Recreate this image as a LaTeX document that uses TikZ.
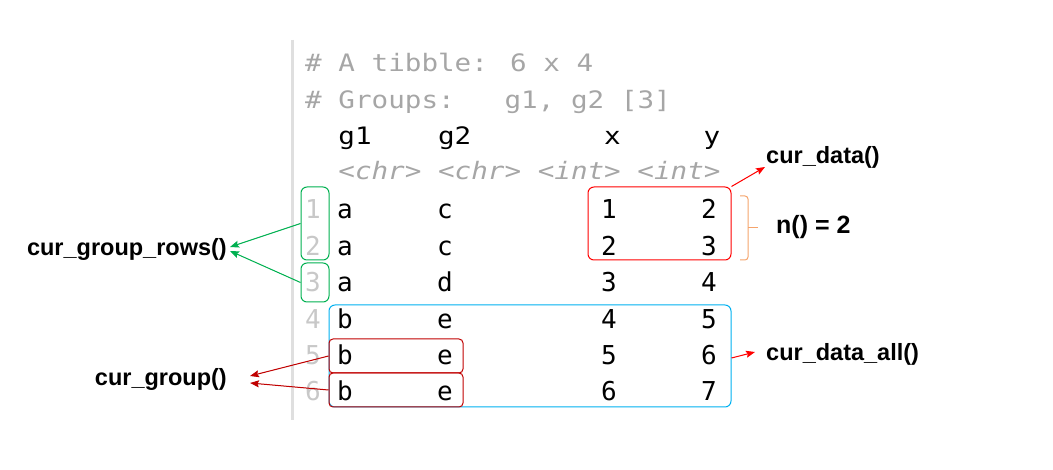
\documentclass[tikz,border=0pt]{standalone}
\usepackage{fontspec}
\setmainfont{Liberation Sans}
\newfontfamily\codefont[FakeStretch=1.15]{DejaVu Sans Mono}
\newfontfamily\cellfont{DejaVu Sans Mono}
\usetikzlibrary{arrows.meta}

\definecolor{cmtgray}{HTML}{A6A6A6}
\definecolor{numgray}{HTML}{C8C8C8}
\definecolor{grpgreen}{HTML}{00B050}
\definecolor{datared}{HTML}{FF0000}
\definecolor{grpred}{HTML}{C00000}
\definecolor{allblue}{HTML}{00B0F0}
\definecolor{braceorange}{HTML}{F5A46C}

\tikzset{
  cmt/.style={font=\codefont\fontsize{24}{28}\selectfont, text=cmtgray, anchor=base west, inner sep=0pt},
  hdr/.style={font=\codefont\fontsize{24}{28}\selectfont, anchor=base west, inner sep=0pt},
  cell/.style={font=\cellfont\fontsize{26}{30}\selectfont, anchor=base west, inner sep=0pt},
  rownum/.style={cell, text=numgray},
  fnlabel/.style={font=\bfseries\fontsize{23.5}{27}\selectfont, inner sep=0pt},
  selbox/.style={draw=#1, line width=1pt, rounded corners=6pt, inner sep=0pt},
  conn/.style={line width=1pt, draw=#1, -{Stealth[length=9pt,width=7pt,inset=1.5pt]}, fill=#1}
}

\begin{document}
\begin{tikzpicture}[x=1pt,y=-1pt]
\useasboundingbox (0,0) rectangle (1053,470);

% console margin
\draw[line width=3pt, gray!25] (292,40) -- (292,420);

% tibble header
\node[cmt] (title) at (305,72) {\# A tibble: 6 x 4};
\node[cmt] (groups) at (305,109) {\# Groups:\ \ \ g1, g2 [3]};
\node[hdr] (hg1) at (338.2,145) {g1};
\node[hdr] (hg2) at (437.8,145) {g2};
\node[hdr] (hx) at (603.8,145) {x};
\node[hdr] (hy) at (703.4,145) {y};
\node[cmt, font=\codefont\itshape\fontsize{24}{28}\selectfont] (types) at (338.2,180) {<chr> <chr> <int> <int>};

% rows
\foreach \r/\a/\b/\x/\y in {1/a/c/1/2,2/a/c/2/3,3/a/d/3/4,4/b/e/4/5,5/b/e/5/6,6/b/e/6/7}{
  \pgfmathsetmacro\yb{219+36.4*(\r-1)}
  \node[rownum] (n\r) at (305,\yb) {\r};
  \node[cell] (g1\r) at (337,\yb) {\a};
  \node[cell] (g2\r) at (437,\yb) {\b};
  \node[cell] (x\r) at (601,\yb) {\x};
  \node[cell] (y\r) at (701,\yb) {\y};
}

% boxes
\node[selbox=grpgreen, minimum width=28pt, minimum height=73pt] (rows12) at (315,223.5) {};
\node[selbox=grpgreen, minimum width=28pt, minimum height=39pt] (rows3) at (315,282.5) {};
\node[selbox=datared, minimum width=143pt, minimum height=73pt] (cd) at (659.5,223.5) {};
\node[selbox=allblue, minimum width=402pt, minimum height=102pt] (cda) at (530,356) {};
\node[selbox=grpred, rounded corners=4pt, minimum width=134pt, minimum height=34pt] (grp5) at (396,356) {};
\node[selbox=grpred, rounded corners=4pt, minimum width=134pt, minimum height=34pt] (grp6) at (396,390) {};

% labels
\node[fnlabel, anchor=east] (rowsfn) at (227,249) {cur\_group\_rows()};
\node[fnlabel, anchor=east] (grpfn) at (227,379) {cur\_group()};
\node[fnlabel, anchor=west] (datafn) at (766,157) {cur\_data()};
\node[fnlabel, anchor=west, font=\bfseries\fontsize{25}{29}\selectfont] (nfn) at (776,227) {n() = 2};
\node[fnlabel, anchor=west] (allfn) at (766,354) {cur\_data\_all()};

% connectors
\draw[conn=grpgreen] (rows12.west) -- ([xshift=3pt,yshift=2pt]rowsfn.east);
\draw[conn=grpgreen] (rows3.west) -- ([xshift=3pt,yshift=-2pt]rowsfn.east);
\draw[conn=grpred] (grp5.west) -- ([xshift=23pt,yshift=3pt]grpfn.east);
\draw[conn=grpred] (grp6.west) -- ([xshift=23pt,yshift=-4pt]grpfn.east);
\draw[conn=datared] (cd.north east) -- ([xshift=-1pt,yshift=-10pt]datafn.west);
\draw[conn=datared] ([yshift=-2pt]cda.east) -- ([xshift=-11pt,yshift=2pt]allfn.west);

% bracket
\draw[braceorange, line width=1pt, rounded corners=3pt] (740,196) -- (748,196) -- (748,260) -- (740,260);
\draw[braceorange, line width=1pt] (748,228) -- (758,228);
\end{tikzpicture}
\end{document}
